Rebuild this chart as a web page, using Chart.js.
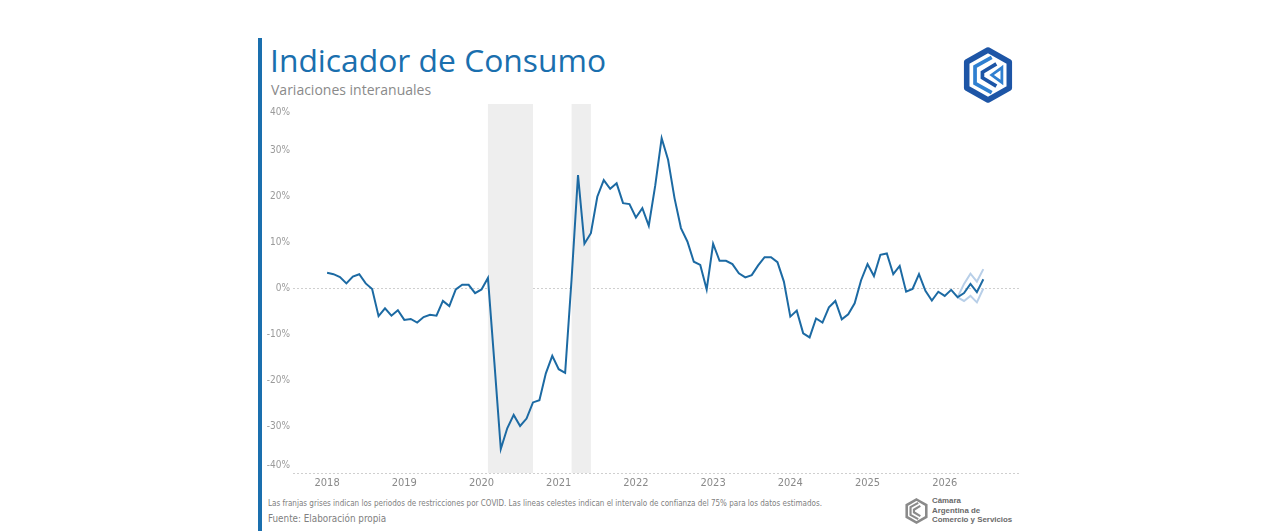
<!DOCTYPE html>
<html lang="es">
<head>
<meta charset="UTF-8">
<title>Indicador de Consumo</title>
<style>
  html, body { margin: 0; padding: 0; background: #fff; }
  body { width: 1280px; height: 531px; position: relative; overflow: hidden; }
  .bar { position: absolute; left: 258px; top: 38px; width: 4px; height: 493px; background: #1a6fae; }
  .title { position: absolute; left: 270px; top: 41px; font-family: "Open Sans", sans-serif; font-size: 31.8px; line-height: 38px; color: #1a6fae; white-space: nowrap; }
  .subtitle { position: absolute; left: 271px; top: 80px; font-family: "Open Sans", sans-serif; font-size: 14px; line-height: 20px; color: #8a8a8a; white-space: nowrap; }
  .note { position: absolute; left: 268px; top: 499px; font-family: "Liberation Sans Narrow", "DejaVu Sans Condensed", sans-serif; font-size: 8px; color: #808080; white-space: nowrap; }
  .source { position: absolute; left: 268px; top: 513px; font-family: "Liberation Sans Narrow", "DejaVu Sans Condensed", sans-serif; font-size: 9.8px; color: #808080; white-space: nowrap; }
  .brand { position: absolute; left: 932px; top: 496px; font-family: "Liberation Sans", Arial, sans-serif; font-size: 7.9px; line-height: 9.6px; color: #6a6a6a; font-weight: bold; }
  #wrap { position: absolute; left: 260px; top: 96px; width: 780px; height: 400px; }
</style>
</head>
<body>
<div class="bar"></div>
<div class="title">Indicador de Consumo</div>
<div class="subtitle">Variaciones interanuales</div>

<!-- logo arriba a la derecha -->
<svg style="position:absolute;left:963px;top:47px" width="50" height="56" viewBox="0 0 54 60">
  <path d="M27 3 L50 16 L50 44 L27 57 L4 44 L4 16 Z" fill="none" stroke="#1d55a6" stroke-width="6" stroke-linejoin="round"/>
  <path d="M31 11 L13 21 L13 39 L31 49" fill="none" stroke="#2f7fd0" stroke-width="4"/>
  <path d="M36 18 L21 27 L21 33 L36 42" fill="none" stroke="#1d55a6" stroke-width="4"/>
  <path d="M42 22 L31 30 L42 38 Z" fill="none" stroke="#2f7fd0" stroke-width="3"/>
</svg>

<div id="wrap"><canvas id="myChart"></canvas></div>

<div class="note">Las franjas grises indican los periodos de restricciones por COVID. Las lineas celestes indican el intervalo de confianza del 75% para los datos estimados.</div>
<div class="source">Fuente: Elaboración propia</div>

<!-- logo abajo a la derecha -->
<svg style="position:absolute;left:905px;top:498px" width="23" height="26" viewBox="0 0 54 60">
  <path d="M27 3 L50 16 L50 44 L27 57 L4 44 L4 16 Z" fill="none" stroke="#8a8a8a" stroke-width="6"/>
  <path d="M31 11 L13 21 L13 39 L31 49" fill="none" stroke="#8a8a8a" stroke-width="5"/>
  <path d="M36 18 L21 27 L21 33 L36 42" fill="none" stroke="#8a8a8a" stroke-width="5"/>
</svg>
<div class="brand">Cámara<br>Argentina de<br>Comercio y Servicios</div>

<script src="https://cdn.jsdelivr.net/npm/chart.js"></script>
<script>
    // años (eje x, una etiqueta por enero)
    const years = ['2018', '2019', '2020', '2021', '2022', '2023', '2024', '2025', '2026'];

    // variación interanual mensual, ene-2018 a jul-2026 (%)
    const consumo = [
        3.4, 3.1, 2.5, 1.1, 2.6, 3.1, 1.1, -0.1, -6.0, -4.3, -5.9, -4.7,
        -6.8, -6.6, -7.4, -6.2, -5.7, -5.9, -2.7, -3.8, -0.2, 0.8, 0.8, -1.0,
        -0.2, 2.3, -16.0, -34.8, -30.3, -27.4, -29.8, -28.2, -24.7, -24.2, -18.4, -14.6,
        -17.5, -18.3, 2.0, 24.6, 9.7, 12.0, 19.9, 23.5, 21.6, 22.8, 18.5, 18.3,
        15.4, 17.4, 13.6, 22.3, 32.6, 27.9, 19.6, 13.1, 10.2, 5.8, 5.1, -0.2,
        9.7, 6.0, 6.0, 5.3, 3.3, 2.4, 2.9, 5.0, 6.8, 6.8, 5.7, 1.5,
        -6.1, -4.8, -9.7, -10.6, -6.5, -7.4, -4.1, -2.7, -6.7, -5.6, -3.2, 1.8,
        5.3, 2.7, 7.3, 7.6, 3.1, 4.9, -0.7, -0.1, 3.1, -0.5, -2.6, -0.7,
        -1.6, -0.3, -1.9, -1.0, 1.0, -0.8, 2.0
    ];

    // intervalo de confianza 75% (desde mar-2026)
    const ciStart = 98;
    const ciUpper = [-1.9, 1.0, 3.2, 1.5, 4.2];
    const ciLower = [-1.9, -2.7, -1.6, -3.0, 0.0];

    // franjas COVID (índice de mes desde ene-2018)
    const covidBands = [[25, 32], [38, 41]];

    const yTicks = [-40, -30, -20, -10, 0, 10, 20, 30, 40];

    const toPoints = (arr, start) => arr.map((v, i) => ({ x: start + i, y: v }));

    const bandsPlugin = {
        id: 'covidBands',
        beforeDatasetsDraw(chart) {
            const { ctx, chartArea, scales } = chart;
            ctx.save();
            ctx.fillStyle = '#eeeeee';
            covidBands.forEach(([a, b]) => {
                const x1 = scales.x.getPixelForValue(a);
                const x2 = scales.x.getPixelForValue(b);
                ctx.fillRect(x1, chartArea.top, x2 - x1, chartArea.bottom - chartArea.top);
            });
            ctx.restore();
        }
    };

    const narrow = "'Liberation Sans Narrow', 'DejaVu Sans Condensed', sans-serif";
    const ctx = document.getElementById('myChart');

    new Chart(ctx, {
        type: 'line',
        data: {
            datasets: [
                {
                    label: 'Consumo',
                    data: toPoints(consumo, 0),
                    borderColor: '#1c6aa3',
                    borderWidth: 2,
                    pointRadius: 0,
                    tension: 0
                },
                {
                    label: 'Superior',
                    data: toPoints(ciUpper, ciStart),
                    borderColor: '#b8cfe8',
                    borderWidth: 2,
                    pointRadius: 0,
                    tension: 0
                },
                {
                    label: 'Inferior',
                    data: toPoints(ciLower, ciStart),
                    borderColor: '#b8cfe8',
                    borderWidth: 2,
                    pointRadius: 0,
                    tension: 0
                }
            ]
        },
        options: {
            responsive: true,
            maintainAspectRatio: false,
            animation: false,
            layout: { padding: { top: 8, right: 20, bottom: 0, left: 0 } },
            scales: {
                x: {
                    type: 'linear',
                    min: -5.3,
                    max: 107.7,
                    afterBuildTicks: s => { s.ticks = years.map((y, i) => ({ value: i * 12 })); },
                    afterFit: s => { s.height = 23; },
                    grid: { display: false, drawTicks: false },
                    border: { display: false },
                    ticks: {
                        padding: 4,
                        maxRotation: 0,
                        autoSkip: false,
                        color: '#8a8a8a',
                        font: { family: narrow, size: 11 },
                        callback: v => years[v / 12]
                    }
                },
                y: {
                    min: -40,
                    max: 40,
                    afterBuildTicks: s => { s.ticks = yTicks.map(v => ({ value: v })); },
                    afterFit: s => { s.width = 33; s.paddingTop = 0; s.paddingBottom = 0; },
                    grid: {
                        drawTicks: false,
                        lineWidth: 1,
                        color: c => (c.tick && (c.tick.value === 0 || c.tick.value === -40)) ? '#cfcfcf' : 'rgba(0,0,0,0)'
                    },
                    border: { display: false, dash: [2, 2] },
                    ticks: {
                        padding: 3,
                        color: '#9a9a9a',
                        font: { family: narrow, size: 10, lineHeight: 1.6 },
                        // the outer labels sit a little inside the plot edges
                        callback: v => v === 40 ? ['', '40%'] : v === -40 ? ['-40%', ''] : v + '%'
                    }
                }
            },
            plugins: {
                legend: { display: false },
                tooltip: { enabled: false },
                title: { display: false }
            }
        },
        plugins: [bandsPlugin]
    });
</script>
</body>
</html>
